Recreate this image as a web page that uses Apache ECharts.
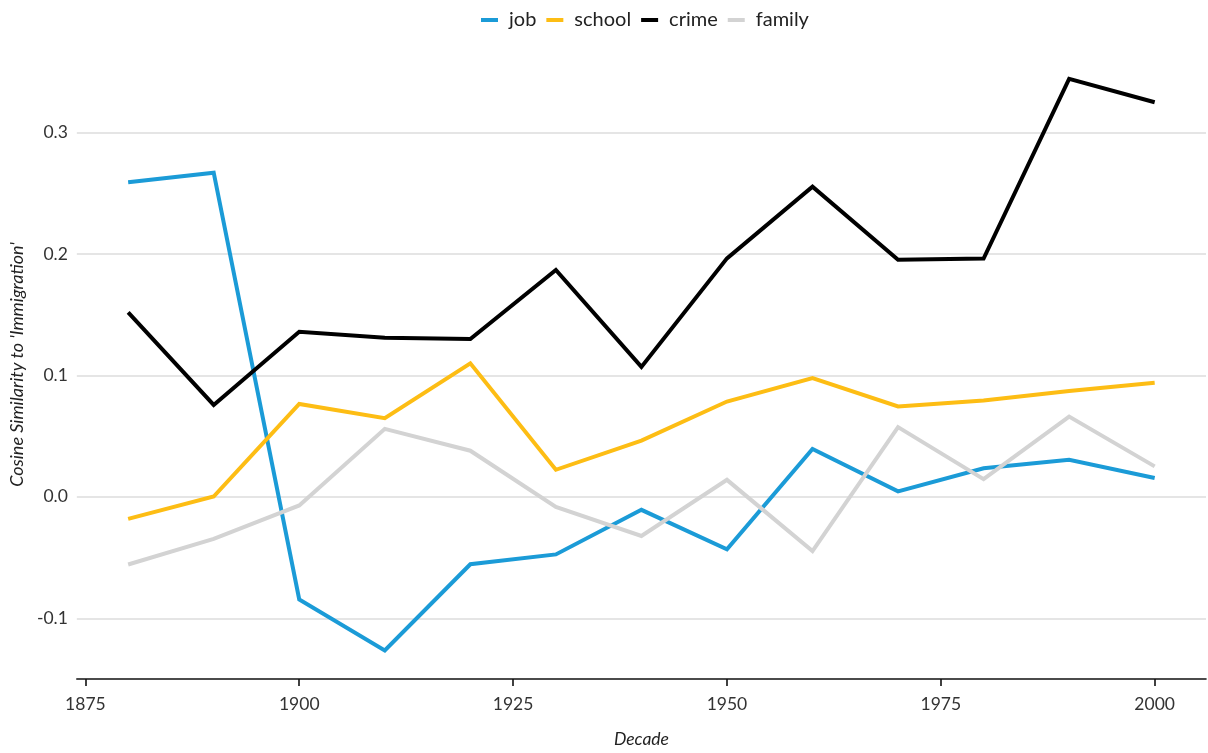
<!DOCTYPE html>
<html>
<head>
<meta charset="utf-8">
<script src="https://cdn.jsdelivr.net/npm/echarts@6/dist/echarts.min.js"></script>
<style>
html,body{margin:0;padding:0;background:#fff;}
#chart{width:1208px;height:753px;}
</style>
</head>
<body>
<div id="chart"></div>
<script>
const decades = [1880, 1890, 1900, 1910, 1920, 1930, 1940, 1950, 1960, 1970, 1980, 1990, 2000];
const job    = [0.259, 0.267, -0.0845, -0.1265, -0.0555, -0.0474, -0.0107, -0.0432, 0.0394, 0.0045, 0.0235, 0.0306, 0.0155];
const school = [-0.0181, 0.0003, 0.0765, 0.0648, 0.110, 0.0223, 0.0463, 0.0785, 0.0978, 0.0744, 0.0793, 0.0871, 0.0940];
const crime  = [0.152, 0.0757, 0.136, 0.131, 0.130, 0.1868, 0.107, 0.1964, 0.2555, 0.1953, 0.1962, 0.3443, 0.3250];
const family = [-0.0557, -0.0346, -0.0071, 0.0560, 0.0380, -0.0083, -0.0322, 0.0140, -0.0446, 0.0574, 0.0146, 0.0661, 0.0251];
const xTicks = [1875, 1900, 1925, 1950, 1975, 2000];
const yTicks = [-0.1, 0, 0.1, 0.2, 0.3];
const seriesNames = ['job', 'school', 'crime', 'family'];
const seriesColors = ['#1b9bd7', '#fdbd14', '#000000', '#d3d3d3'];
const seriesValues = [job, school, crime, family];

const font = 'Lato, "Noto Sans", sans-serif';
const chart = echarts.init(document.getElementById('chart'), null, {renderer: 'canvas'});
chart.setOption({
  animation: false,
  backgroundColor: '#ffffff',
  color: seriesColors,
  legend: {
    top: 5,
    left: 476,
    icon: 'rect',
    itemWidth: 17,
    itemHeight: 4,
    itemGap: 10,
    formatter: name => '{a|' + name + '}',
    textStyle: {fontFamily: font, fontSize: 20, color: '#222',
      rich: {a: {fontFamily: font, fontSize: 20, color: '#222', padding: [0, 0, 0, 6]}}},
    data: seriesNames
  },
  grid: {left: 75.5, right: 2, top: 50, bottom: 72},
  xAxis: {
    type: 'value',
    min: 1874,
    max: 2006,
    name: 'Decade',
    nameLocation: 'middle',
    nameGap: 51,
    nameTextStyle: {fontFamily: font, fontStyle: 'italic', fontSize: 17.5, color: '#222'},
    axisLine: {show: true, onZero: false, lineStyle: {color: '#111', width: 1.6}},
    axisTick: {show: true, length: 7, lineStyle: {color: '#111', width: 1.6}, customValues: xTicks},
    axisLabel: {fontFamily: font, fontSize: 17.5, color: '#333', margin: 16, customValues: xTicks,
      formatter: v => String(v)},
    splitLine: {show: false}
  },
  yAxis: {
    type: 'value',
    min: -0.15,
    max: 0.368,
    name: "Cosine Similarity to 'Immigration'",
    nameLocation: 'middle',
    nameGap: 49,
    nameTextStyle: {fontFamily: font, fontStyle: 'italic', fontSize: 18, color: '#222'},
    axisLine: {show: false},
    axisTick: {show: false, customValues: yTicks},
    axisLabel: {fontFamily: font, fontSize: 17.5, color: '#333', margin: 9, customValues: yTicks,
      formatter: v => v.toFixed(1)},
    splitLine: {show: true, lineStyle: {color: '#dcdcdc', width: 1.6}}
  },
  series: seriesNames.map((name, i) => ({
    name: name,
    type: 'line',
    symbol: 'none',
    lineStyle: {width: 4, color: seriesColors[i], join: 'miter'},
    itemStyle: {color: seriesColors[i]},
    data: decades.map((d, j) => [d, seriesValues[i][j]])
  }))
});
</script>
</body>
</html>
